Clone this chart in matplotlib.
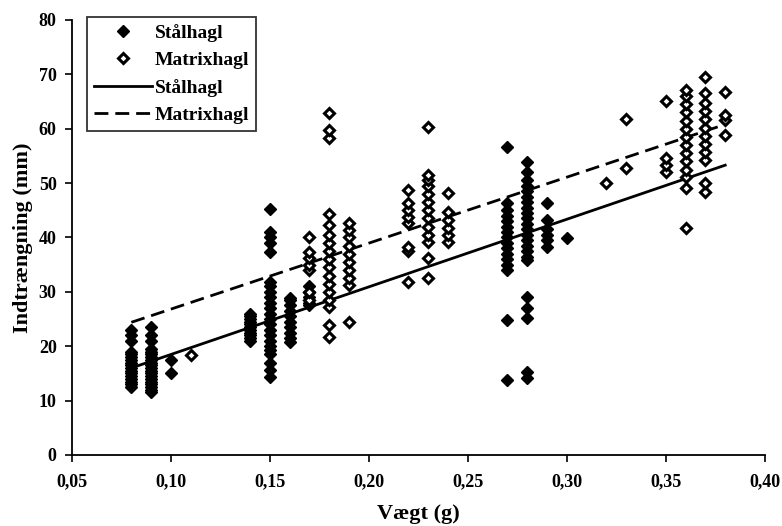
import matplotlib
matplotlib.use('Agg')
import matplotlib.pyplot as plt
from matplotlib.ticker import FuncFormatter
import numpy as np

# Stålhagl (filled diamonds): weight (g) -> penetration values (mm)
steel = {
    0.08: [12.5, 13, 13.5, 14, 14.5, 15, 15.5, 16, 16.5, 17, 17.5, 18, 18.5, 19, 21, 22, 23],
    0.09: [11.5, 12, 12.5, 13, 13.5, 14, 14.5, 15, 15.5, 16, 16.5, 17, 17.5, 18, 18.5, 19, 19.5, 21, 22, 23.5],
    0.10: [15, 17.5],
    0.14: [21, 21.5, 22, 22.5, 23, 23.5, 24, 24.5, 25, 25.5, 26],
    0.15: [14.3, 15.6, 16.9, 18.5, 19.3, 20, 21, 22, 23, 24, 25, 26, 27, 28, 29, 30, 31, 31.8,
           37.3, 39, 40, 41, 45.2],
    0.16: [20.8, 21.5, 22.5, 23.5, 24.5, 25.5, 26.5, 27.5, 28.5, 28.9],
    0.17: [27.5, 28, 29, 30, 31],
    0.27: [13.8, 24.8, 34, 35, 36, 37, 38, 39, 40, 41, 42, 43, 44, 45, 46.3, 56.6],
    0.28: [14.2, 15.3, 25.2, 27, 29, 35.8, 36.5, 37.5, 38.5, 39.5, 40.5, 41.5, 42.5, 43.5,
           44.5, 45.5, 46.5, 47.5, 48.5, 49.5, 50.5, 52, 53.9],
    0.29: [38.2, 39.5, 40.5, 41.5, 43.2, 46.3],
    0.30: [39.9],
}

# Matrixhagl (open diamonds)
matrix = {
    0.11: [18.4],
    0.17: [28.5, 30, 34, 35, 36.2, 37.3, 40],
    0.18: [21.7, 23.9, 27.2, 28.5, 30, 31.5, 33, 34.5, 36, 37.5, 39, 40.5, 42.3, 44.3, 58.3, 59.7, 62.9],
    0.19: [24.4, 31.2, 32.5, 34, 35.5, 37, 38.5, 40, 41.3, 42.6],
    0.22: [31.8, 37.6, 38.2, 42.6, 43.8, 45, 46.3, 48.7],
    0.23: [32.5, 36.2, 39.2, 40.5, 42, 43.5, 45, 46.5, 48, 49.5, 50.5, 51.5, 60.3],
    0.24: [39.2, 40.4, 41.8, 43.2, 44.7, 48.2],
    0.32: [50],
    0.33: [52.8, 61.7],
    0.35: [52, 53.3, 54.6, 65.1],
    0.36: [41.7, 49.1, 51.1, 52.5, 54, 55.5, 57, 58.5, 60, 61.5, 63, 64.5, 66, 67.1],
    0.37: [48.3, 50, 54.2, 55.7, 57.2, 58.7, 60.2, 61.7, 63.2, 64.7, 66.5, 69.5],
    0.38: [58.8, 61.6, 62.5, 66.7],
}

# regression lines, read at the end points
fit_x = [0.08, 0.38]
steel_fit = [16.0, 53.3]
matrix_fit = [24.4, 60.8]

x_ticks = [0.05, 0.10, 0.15, 0.20, 0.25, 0.30, 0.35, 0.40]
y_ticks = [0, 10, 20, 30, 40, 50, 60, 70, 80]


def flatten(groups):
    xs, ys = [], []
    for wx, vals in groups.items():
        xs += [wx] * len(vals)
        ys += vals
    return np.array(xs), np.array(ys)


plt.rcParams['font.family'] = 'Liberation Serif'
plt.rcParams['font.weight'] = 'bold'

fig = plt.figure(figsize=(7.82, 5.26), dpi=100)
ax = fig.add_axes([0.092, 0.135, 0.886, 0.827])

sx, sy = flatten(steel)
mx, my = flatten(matrix)
ax.plot(sx, sy, linestyle='none', marker='D', markersize=6.3, color='black',
        label='Stålhagl', zorder=3)
ax.plot(mx, my, linestyle='none', marker='D', markersize=5.4, markerfacecolor='white',
        markeredgecolor='black', markeredgewidth=2.2, label='Matrixhagl', zorder=3)
ax.plot(fit_x, steel_fit, color='black', linewidth=2, linestyle='-', label='Stålhagl')
ax.plot(fit_x, matrix_fit, color='black', linewidth=2, linestyle=(0, (5, 2.5)), label='Matrixhagl')

ax.set(xlim=(0.05, 0.40), ylim=(0, 80))
ax.set_xticks(x_ticks)
ax.set_yticks(y_ticks)
ax.xaxis.set_major_formatter(FuncFormatter(lambda v, p: ('%.2f' % v).replace('.', ',')))
ax.yaxis.set_major_formatter(FuncFormatter(lambda v, p: '%d' % v))
ax.tick_params(labelsize=13, direction='out', length=5, width=1.2)
ax.tick_params(axis='x', pad=8)
ax.tick_params(axis='y', pad=6)

for side in ['top', 'right']:
    ax.spines[side].set_visible(False)
for side in ['left', 'bottom']:
    ax.spines[side].set_linewidth(1.3)

ax.set_xlabel('Vægt (g)', fontsize=16, fontweight='bold', labelpad=10)
ax.set_ylabel('Indtrængning (mm)', fontsize=16, fontweight='bold', labelpad=4)

leg = ax.legend(loc='upper left', bbox_to_anchor=(87 / 782, 1 - 17 / 526),
                bbox_transform=fig.transFigure, fontsize=14, frameon=True, fancybox=False,
                handlelength=3, handletextpad=0.15, labelspacing=0.5, borderpad=0.35,
                borderaxespad=0)
leg.get_frame().set_edgecolor('black')
leg.get_frame().set_linewidth(1.3)

plt.savefig('out.png', dpi=100)
